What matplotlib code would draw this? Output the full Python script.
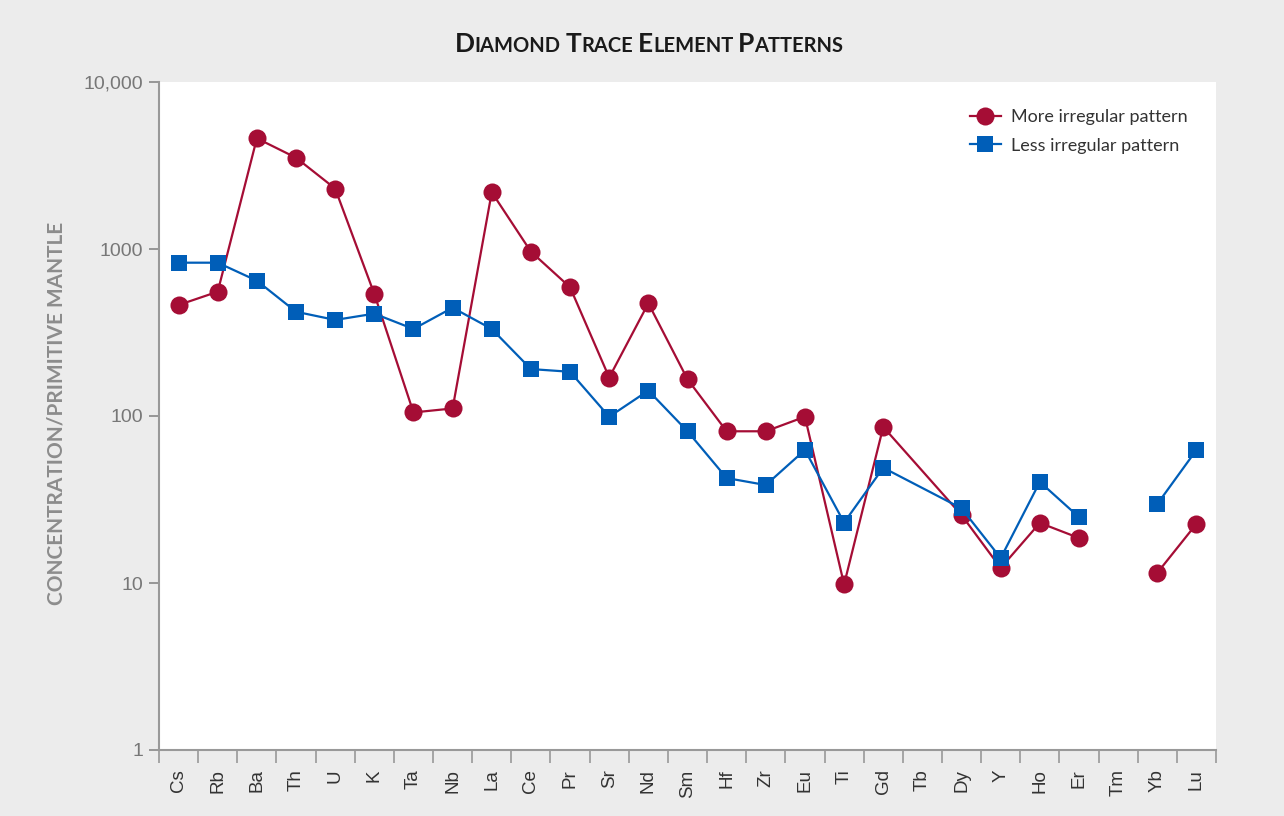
import numpy as np
import matplotlib
matplotlib.use('Agg')
import matplotlib.pyplot as plt
from matplotlib.transforms import IdentityTransform

elements = ['Cs', 'Rb', 'Ba', 'Th', 'U', 'K', 'Ta', 'Nb', 'La', 'Ce', 'Pr', 'Sr', 'Nd', 'Sm',
            'Hf', 'Zr', 'Eu', 'Ti', 'Gd', 'Tb', 'Dy', 'Y', 'Ho', 'Er', 'Tm', 'Yb', 'Lu']
more_irregular = [462, 555, 4600, 3520, 2300, 538, 105, 111, 2186, 964, 590, 170, 473, 166,
                  81, 81, 99, 9.8, 86, None, 25.5, 12.3, 22.9, 18.6, None, 11.5, 22.6]
less_irregular = [828, 828, 646, 421, 376, 410, 332, 445, 332, 191, 184, 99, 142, 81,
                  42.5, 38.6, 62.6, 23, 49, None, 28, 14.1, 40.3, 24.8, None, 29.7, 62.6]
y_ticks = [1, 10, 100, 1000, 10000]
y_labels = ['1', '10', '100', '1000', '10,000']

RED = '#a50d35'
BLUE = '#005eb8'
BG = '#ececec'

fig = plt.figure(figsize=(12.84, 8.16), dpi=100, facecolor=BG)
ax = fig.add_axes([159 / 1284, 1 - 750 / 816, (1216 - 159) / 1284, (750 - 82) / 816])
ax.set_facecolor('white')


def series_xy(values):
    # the line runs across Tb (no value) but breaks at Tm, as in the original
    xs, ys = [], []
    for i, (el, v) in enumerate(zip(elements, values)):
        if v is None:
            if el == 'Tm':
                xs.append(np.nan)
                ys.append(np.nan)
            continue
        xs.append(i + 0.5)
        ys.append(v)
    return xs, ys


x, y = series_xy(more_irregular)
ax.plot(x, y, color=RED, lw=1.6, marker='o', ms=13, mew=0, zorder=3,
        label='More irregular pattern')
x, y = series_xy(less_irregular)
ax.plot(x, y, color=BLUE, lw=1.6, marker='s', ms=12, mew=0, zorder=4,
        label='Less irregular pattern')

ax.set_yscale('log')
ax.set_ylim(1, 10000)
ax.set_xlim(0, len(elements))
ax.yaxis.set_major_locator(matplotlib.ticker.FixedLocator(y_ticks))
ax.yaxis.set_minor_locator(matplotlib.ticker.NullLocator())
ax.set_yticklabels(y_labels)
ax.tick_params(axis='y', length=7.5, width=1.2, color='#888888', labelcolor='#777777',
               labelsize=14, pad=4)

# boundaries as ticks, element names on the centres
ax.set_xticks(np.arange(len(elements) + 1))
ax.set_xticklabels([])
ax.set_xticks(np.arange(len(elements)) + 0.5, minor=True)
ax.set_xticklabels(elements, minor=True, rotation=90)
ax.tick_params(axis='x', which='major', length=9, width=1.2, color='#999999')
ax.tick_params(axis='x', which='minor', length=0, pad=14, labelsize=13.5, labelcolor='#333333')
for lab in ax.get_yticklabels() + ax.get_xticklabels(minor=True):
    lab.set_family('Liberation Sans')

for side in ['top', 'right']:
    ax.spines[side].set_visible(False)
for side in ['left', 'bottom']:
    ax.spines[side].set_color('#999999')
    ax.spines[side].set_linewidth(1.5)

leg = ax.legend(loc='upper right', bbox_to_anchor=(0.989, 0.984), frameon=False,
                prop={'family': 'Lato', 'size': 13}, handlelength=1.7, handletextpad=0.6,
                labelspacing=0.7, labelcolor='#333333')


def small_caps(x0, y0, text, big, small, **kw):
    # centred title with small capitals, pieces laid out in pixels
    r = fig.canvas.get_renderer()

    def width(s, size):
        t = fig.text(0, 0, s, fontsize=size, **kw)
        w = t.get_window_extent(r).width
        t.remove()
        return w

    space = width('A A', small) - width('AA', small)
    runs = []
    for wi, word in enumerate(text.split(' ')):
        if wi:
            runs.append((None, space))
        cur, cur_big = '', None
        for ch in word:
            is_big = not ch.islower()
            if cur and is_big != cur_big:
                runs.append((cur, cur_big))
                cur = ''
            cur += ch.upper()
            cur_big = is_big
        runs.append((cur, cur_big))
    pieces = []
    for s, b in runs:
        if s is None:
            pieces.append((None, 0, b))
        else:
            size = big if b else small
            pieces.append((s, size, width(s, size)))
    off = -sum(p[2] for p in pieces) / 2
    for s, size, w in pieces:
        if s is not None:
            fig.text(x0 + off, y0, s, fontsize=size, ha='left', va='baseline',
                     transform=IdentityTransform(), **kw)
        off += w


small_caps(649, 816 - 52, 'Diamond Trace Element Patterns', 19, 14.5,
           family='Lato', weight='bold', color='#1a1a1a')
fig.text(57, 816 - 413, 'CONCENTRATION/PRIMITIVE MANTLE', rotation=90, ha='center',
         va='center', fontsize=15, family='Lato', weight='bold', color='#8c8c8c',
         transform=IdentityTransform())

fig.savefig('out.png', dpi=100, facecolor=BG)
